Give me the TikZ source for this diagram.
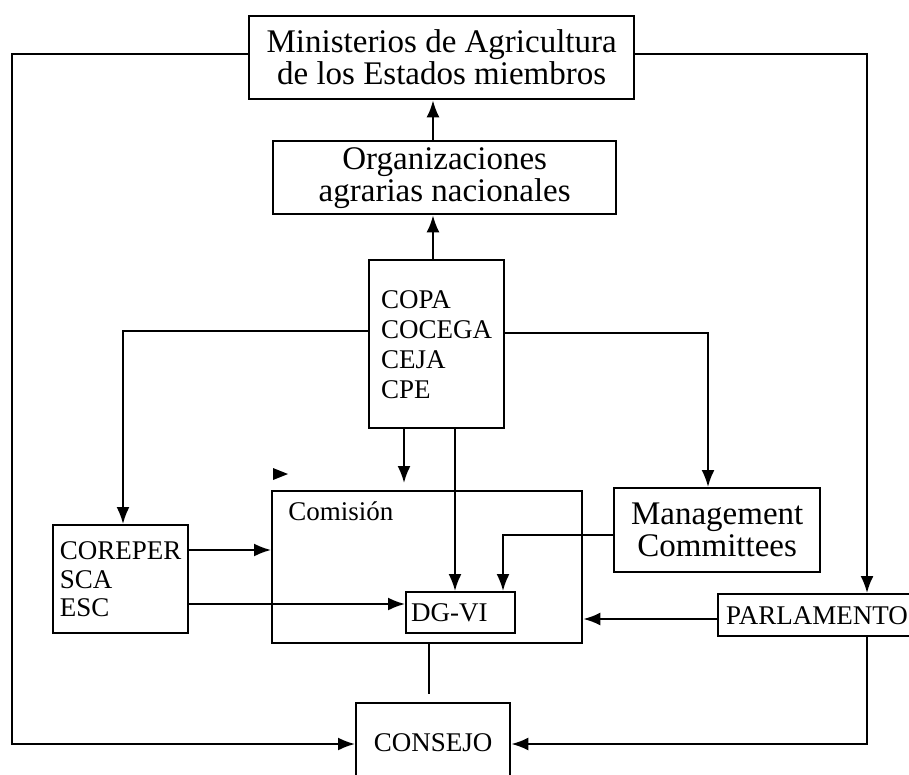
\documentclass[tikz,border=0pt]{standalone}
\usepackage{fontspec}
\setmainfont{Liberation Serif}
\usetikzlibrary{positioning,arrows.meta}
\def\boxfont{\fontsize{33}{32}\selectfont}
\def\listfont{\fontsize{27}{30}\selectfont}
\tikzstyle{box}=[draw,line width=2.4pt,inner sep=4pt,anchor=north west]
\newcommand{\newBox}[4]{\node[box,#3](#1) at (#4) {#2};}
\newcommand{\newLink}[3]{\draw[->] (#1) #3 (#2);}

\begin{document}
\begin{tikzpicture}[x=1pt,y=-1pt,
    >={Latex[length=17pt,width=13pt]},
    line width=2pt  %lines thinner than the boxes
    ]
    \useasboundingbox (0,0) rectangle (909,775);
    \clip (0,0) rectangle (909,775);
    \newBox{min}{Ministerios de Agricultura\\de los Estados miembros}{font=\boxfont,align=center,minimum width=385pt,minimum height=83pt}{248,15}
    \newBox{org}{Organizaciones\\agrarias nacionales}{font=\boxfont,align=center,minimum width=343pt,minimum height=73pt}{272,140}
    \newBox{copa}{COPA\\COCEGA\\CEJA\\CPE}{font=\listfont,align=left,minimum width=135pt,minimum height=168pt}{368,259}
    \newBox{corep}{COREPER\\SCA\\ESC}{font=\fontsize{27}{28.5}\selectfont,align=left,inner sep=2pt,minimum width=135pt,minimum height=108pt}{52,524}
    \newBox{comision}{}{minimum width=310pt,minimum height=152pt}{271,490}
    \node[font=\listfont,anchor=base west](comlabel) at (284,520) {Comisión};
    \newBox{mgmt}{Management\\Committees}{font=\boxfont,align=center,minimum width=206pt,minimum height=84pt}{613,487}
    \newBox{dgvi}{DG-VI}{font=\listfont,align=left,inner xsep=5pt,text width=99pt,minimum height=41pt}{405,591}
    \newBox{parl}{PARLAMENTO}{font=\listfont,inner xsep=8pt,minimum height=42pt}{717,593}
    \newBox{consejo}{CONSEJO}{font=\listfont,minimum width=154pt,minimum height=78pt}{355,702}
    % bend points
    \coordinate (c0) at (433,0);
    \coordinate (bendL) at (12,744);
    \coordinate (bendR) at (867,54);
    \coordinate (copaL) at (123,331);
    \coordinate (copaR) at (708,333);
    \coordinate (c1) at (404,483);
    \coordinate (c2) at (455,0);
    \coordinate (c3) at (429,694);
    \coordinate (mgmtL) at (503,535);
    \coordinate (corepA) at (189,550);
    \coordinate (corepB) at (189,604);
    \coordinate (parlA) at (717,619);
    \newLink{copa.north -| c0}{org.south -| c0}{--}
    \newLink{org.north -| c0}{min.south -| c0}{--}
    \draw[->] (min.west |- bendR) -| (bendL) -- (consejo.west |- bendL);
    \newLink{min.east |- bendR}{parl.north -| bendR}{-|}
    \newLink{parl.south -| bendR}{consejo.east |- bendL}{|-}
    \newLink{copa.west |- copaL}{corep.north -| copaL}{-|}
    \newLink{copa.east |- copaR}{mgmt.north -| copaR}{-|}
    \newLink{copa.south -| c1}{c1}{--}
    \newLink{copa.south -| c2}{dgvi.north -| c2}{--}
    \newLink{mgmt.west |- mgmtL}{dgvi.north -| mgmtL}{-|}
    \newLink{corep.east |- corepA}{comision.west |- corepA}{--}
    \newLink{corep.east |- corepB}{dgvi.west |- corepB}{--}
    \newLink{parl.west |- parlA}{comision.east |- parlA}{--}
    \draw (comision.south -| c3) -- (c3);
    \fill (273,468) -- (288,474) -- (273,480) -- cycle;
\end{tikzpicture}
\end{document}
